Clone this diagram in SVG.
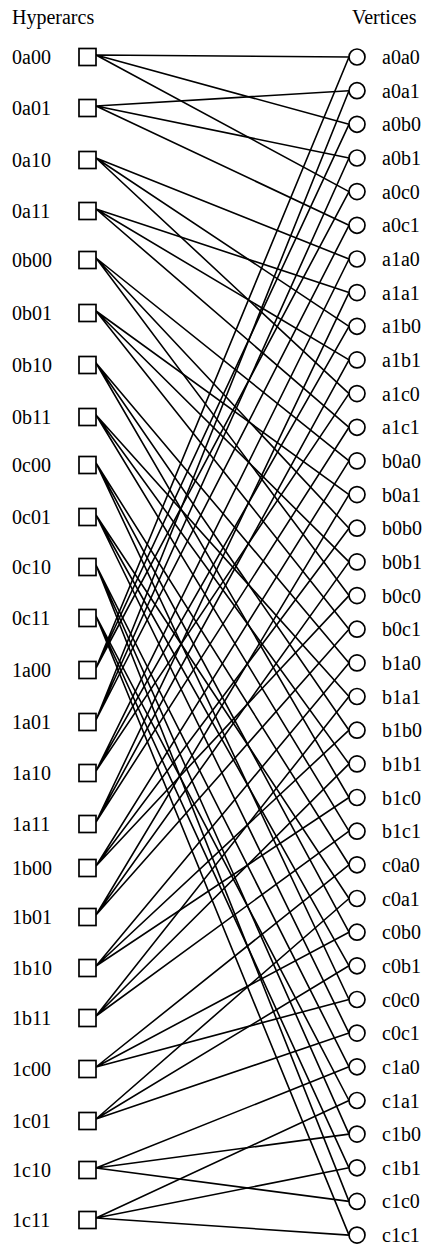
<svg xmlns="http://www.w3.org/2000/svg" width="423" height="1248" viewBox="0 0 423 1248">
<style>
text{font-family:"Liberation Serif","Times New Roman",serif;font-size:20px;fill:#000}
.e{stroke:#000;stroke-width:1.6;fill:none}
.sq{fill:#fff;stroke:#000;stroke-width:1.7}
.ci{fill:#fff;stroke:#000;stroke-width:1.7}
</style>
<rect width="423" height="1248" fill="#fff"/>
<text x="12" y="24">Hyperarcs</text>
<text x="352" y="24">Vertices</text>
<g id="connectors" class="e">
<path d="M96 55L349 57M96 55L349 124.3M96 55L349 191.6"/>
<path d="M96 106L349 90.7M96 106L349 158M96 106L349 225.3"/>
<path d="M96 158L349 259M96 158L349 326.3M96 158L349 393.6"/>
<path d="M96 209L349 292.6M96 209L349 359.9M96 209L349 427.3"/>
<path d="M96 258L349 460.9M96 258L349 528.2M96 258L349 595.6"/>
<path d="M96 311L349 494.6M96 311L349 561.9M96 311L349 629.2"/>
<path d="M96 363L349 662.9M96 363L349 730.2M96 363L349 797.5"/>
<path d="M96 415L349 696.5M96 415L349 763.9M96 415L349 831.2"/>
<path d="M96 463L349 864.8M96 463L349 932.2M96 463L349 999.5"/>
<path d="M96 515L349 898.5M96 515L349 965.8M96 515L349 1033.1"/>
<path d="M96 565L349 1066.8M96 565L349 1134.1M96 565L349 1201.4"/>
<path d="M96 616L349 1100.5M96 616L349 1167.8M96 616L349 1235.1"/>
<path d="M96 668L349 57M96 668L349 124.3M96 668L349 191.6"/>
<path d="M96 720L349 90.7M96 720L349 158M96 720L349 225.3"/>
<path d="M96 771L349 259M96 771L349 326.3M96 771L349 393.6"/>
<path d="M96 822L349 292.6M96 822L349 359.9M96 822L349 427.3"/>
<path d="M96 866L349 460.9M96 866L349 528.2M96 866L349 595.6"/>
<path d="M96 915L349 494.6M96 915L349 561.9M96 915L349 629.2"/>
<path d="M96 966L349 662.9M96 966L349 730.2M96 966L349 797.5"/>
<path d="M96 1016L349 696.5M96 1016L349 763.9M96 1016L349 831.2"/>
<path d="M96 1067L349 864.8M96 1067L349 932.2M96 1067L349 999.5"/>
<path d="M96 1119L349 898.5M96 1119L349 965.8M96 1119L349 1033.1"/>
<path d="M96 1168L349 1066.8M96 1168L349 1134.1M96 1168L349 1201.4"/>
<path d="M96 1218L349 1100.5M96 1218L349 1167.8M96 1218L349 1235.1"/>
</g>
<g id="h-0a00"><rect class="sq" x="79" y="48.5" width="17" height="17"/><text x="12" y="64">0a00</text></g>
<g id="h-0a01"><rect class="sq" x="79" y="99.5" width="17" height="17"/><text x="12" y="115">0a01</text></g>
<g id="h-0a10"><rect class="sq" x="79" y="151.5" width="17" height="17"/><text x="12" y="167">0a10</text></g>
<g id="h-0a11"><rect class="sq" x="79" y="202.5" width="17" height="17"/><text x="12" y="218">0a11</text></g>
<g id="h-0b00"><rect class="sq" x="79" y="251.5" width="17" height="17"/><text x="12" y="267">0b00</text></g>
<g id="h-0b01"><rect class="sq" x="79" y="304.5" width="17" height="17"/><text x="12" y="320">0b01</text></g>
<g id="h-0b10"><rect class="sq" x="79" y="356.5" width="17" height="17"/><text x="12" y="372">0b10</text></g>
<g id="h-0b11"><rect class="sq" x="79" y="408.5" width="17" height="17"/><text x="12" y="424">0b11</text></g>
<g id="h-0c00"><rect class="sq" x="79" y="456.5" width="17" height="17"/><text x="12" y="472">0c00</text></g>
<g id="h-0c01"><rect class="sq" x="79" y="508.5" width="17" height="17"/><text x="12" y="524">0c01</text></g>
<g id="h-0c10"><rect class="sq" x="79" y="558.5" width="17" height="17"/><text x="12" y="574">0c10</text></g>
<g id="h-0c11"><rect class="sq" x="79" y="609.5" width="17" height="17"/><text x="12" y="625">0c11</text></g>
<g id="h-1a00"><rect class="sq" x="79" y="661.5" width="17" height="17"/><text x="12" y="677">1a00</text></g>
<g id="h-1a01"><rect class="sq" x="79" y="713.5" width="17" height="17"/><text x="12" y="729">1a01</text></g>
<g id="h-1a10"><rect class="sq" x="79" y="764.5" width="17" height="17"/><text x="12" y="780">1a10</text></g>
<g id="h-1a11"><rect class="sq" x="79" y="815.5" width="17" height="17"/><text x="12" y="831">1a11</text></g>
<g id="h-1b00"><rect class="sq" x="79" y="859.5" width="17" height="17"/><text x="12" y="875">1b00</text></g>
<g id="h-1b01"><rect class="sq" x="79" y="908.5" width="17" height="17"/><text x="12" y="924">1b01</text></g>
<g id="h-1b10"><rect class="sq" x="79" y="959.5" width="17" height="17"/><text x="12" y="975">1b10</text></g>
<g id="h-1b11"><rect class="sq" x="79" y="1009.5" width="17" height="17"/><text x="12" y="1025">1b11</text></g>
<g id="h-1c00"><rect class="sq" x="79" y="1060.5" width="17" height="17"/><text x="12" y="1076">1c00</text></g>
<g id="h-1c01"><rect class="sq" x="79" y="1112.5" width="17" height="17"/><text x="12" y="1128">1c01</text></g>
<g id="h-1c10"><rect class="sq" x="79" y="1161.5" width="17" height="17"/><text x="12" y="1177">1c10</text></g>
<g id="h-1c11"><rect class="sq" x="79" y="1211.5" width="17" height="17"/><text x="12" y="1227">1c11</text></g>
<g id="v-a0a0"><circle class="ci" cx="357" cy="57" r="8"/><text x="382" y="64">a0a0</text></g>
<g id="v-a0a1"><circle class="ci" cx="357" cy="90.7" r="8"/><text x="382" y="97.7">a0a1</text></g>
<g id="v-a0b0"><circle class="ci" cx="357" cy="124.3" r="8"/><text x="382" y="131.3">a0b0</text></g>
<g id="v-a0b1"><circle class="ci" cx="357" cy="158" r="8"/><text x="382" y="165">a0b1</text></g>
<g id="v-a0c0"><circle class="ci" cx="357" cy="191.6" r="8"/><text x="382" y="198.6">a0c0</text></g>
<g id="v-a0c1"><circle class="ci" cx="357" cy="225.3" r="8"/><text x="382" y="232.3">a0c1</text></g>
<g id="v-a1a0"><circle class="ci" cx="357" cy="259" r="8"/><text x="382" y="266">a1a0</text></g>
<g id="v-a1a1"><circle class="ci" cx="357" cy="292.6" r="8"/><text x="382" y="299.6">a1a1</text></g>
<g id="v-a1b0"><circle class="ci" cx="357" cy="326.3" r="8"/><text x="382" y="333.3">a1b0</text></g>
<g id="v-a1b1"><circle class="ci" cx="357" cy="359.9" r="8"/><text x="382" y="366.9">a1b1</text></g>
<g id="v-a1c0"><circle class="ci" cx="357" cy="393.6" r="8"/><text x="382" y="400.6">a1c0</text></g>
<g id="v-a1c1"><circle class="ci" cx="357" cy="427.3" r="8"/><text x="382" y="434.3">a1c1</text></g>
<g id="v-b0a0"><circle class="ci" cx="357" cy="460.9" r="8"/><text x="382" y="467.9">b0a0</text></g>
<g id="v-b0a1"><circle class="ci" cx="357" cy="494.6" r="8"/><text x="382" y="501.6">b0a1</text></g>
<g id="v-b0b0"><circle class="ci" cx="357" cy="528.2" r="8"/><text x="382" y="535.2">b0b0</text></g>
<g id="v-b0b1"><circle class="ci" cx="357" cy="561.9" r="8"/><text x="382" y="568.9">b0b1</text></g>
<g id="v-b0c0"><circle class="ci" cx="357" cy="595.6" r="8"/><text x="382" y="602.6">b0c0</text></g>
<g id="v-b0c1"><circle class="ci" cx="357" cy="629.2" r="8"/><text x="382" y="636.2">b0c1</text></g>
<g id="v-b1a0"><circle class="ci" cx="357" cy="662.9" r="8"/><text x="382" y="669.9">b1a0</text></g>
<g id="v-b1a1"><circle class="ci" cx="357" cy="696.5" r="8"/><text x="382" y="703.5">b1a1</text></g>
<g id="v-b1b0"><circle class="ci" cx="357" cy="730.2" r="8"/><text x="382" y="737.2">b1b0</text></g>
<g id="v-b1b1"><circle class="ci" cx="357" cy="763.9" r="8"/><text x="382" y="770.9">b1b1</text></g>
<g id="v-b1c0"><circle class="ci" cx="357" cy="797.5" r="8"/><text x="382" y="804.5">b1c0</text></g>
<g id="v-b1c1"><circle class="ci" cx="357" cy="831.2" r="8"/><text x="382" y="838.2">b1c1</text></g>
<g id="v-c0a0"><circle class="ci" cx="357" cy="864.8" r="8"/><text x="382" y="871.8">c0a0</text></g>
<g id="v-c0a1"><circle class="ci" cx="357" cy="898.5" r="8"/><text x="382" y="905.5">c0a1</text></g>
<g id="v-c0b0"><circle class="ci" cx="357" cy="932.2" r="8"/><text x="382" y="939.2">c0b0</text></g>
<g id="v-c0b1"><circle class="ci" cx="357" cy="965.8" r="8"/><text x="382" y="972.8">c0b1</text></g>
<g id="v-c0c0"><circle class="ci" cx="357" cy="999.5" r="8"/><text x="382" y="1006.5">c0c0</text></g>
<g id="v-c0c1"><circle class="ci" cx="357" cy="1033.1" r="8"/><text x="382" y="1040.1">c0c1</text></g>
<g id="v-c1a0"><circle class="ci" cx="357" cy="1066.8" r="8"/><text x="382" y="1073.8">c1a0</text></g>
<g id="v-c1a1"><circle class="ci" cx="357" cy="1100.5" r="8"/><text x="382" y="1107.5">c1a1</text></g>
<g id="v-c1b0"><circle class="ci" cx="357" cy="1134.1" r="8"/><text x="382" y="1141.1">c1b0</text></g>
<g id="v-c1b1"><circle class="ci" cx="357" cy="1167.8" r="8"/><text x="382" y="1174.8">c1b1</text></g>
<g id="v-c1c0"><circle class="ci" cx="357" cy="1201.4" r="8"/><text x="382" y="1208.4">c1c0</text></g>
<g id="v-c1c1"><circle class="ci" cx="357" cy="1235.1" r="8"/><text x="382" y="1242.1">c1c1</text></g>
</svg>
